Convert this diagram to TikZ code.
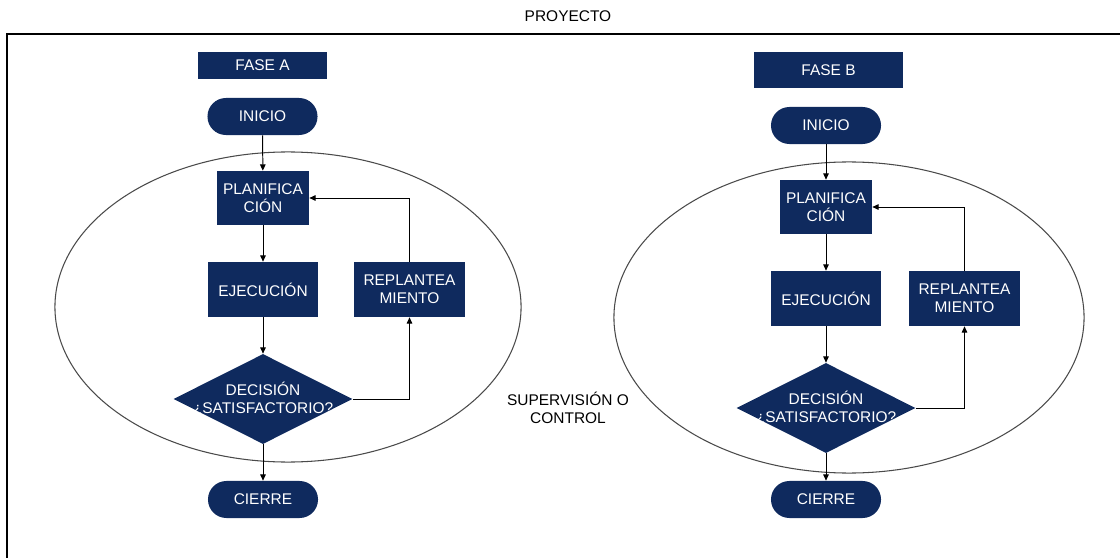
\documentclass[tikz,border=0pt]{standalone}
\usepackage{fontspec}
\setmainfont{Liberation Sans}
\usepackage{xcolor}
\definecolor{navy}{HTML}{0F2A5E}
\definecolor{rim}{HTML}{4A4A4A}
\usepackage{tikz}
\usetikzlibrary{arrows.meta, positioning, shapes, calc}

\tikzset{
  box/.style={rectangle, fill=navy, text=white, inner sep=1pt, align=center,
    font=\fontsize{11}{12.5}\selectfont},
  fasebox/.style={box},
  terminal/.style={box, rounded corners=0.46cm, minimum width=2.75cm, minimum height=0.925cm},
  procbox/.style={box, minimum width=2.75cm, minimum height=1.375cm},
  planbox/.style={box, minimum width=2.3cm, minimum height=1.35cm},
  decision/.style={diamond, fill=navy, inner sep=0pt, minimum width=4.475cm, minimum height=2.25cm},
  dtext/.style={text=white, align=center, inner sep=0pt, font=\fontsize{11}{12.5}\selectfont},
  flow/.style={draw=black, line width=0.7pt, -{Triangle[length=1.6mm, width=1.4mm]}},
  loop/.style={ellipse, draw=rim, line width=0.75pt, inner sep=0pt}
}

\begin{document}
\begin{tikzpicture}[x=0.025cm, y=-0.025cm]
  \useasboundingbox (0,0) rectangle (1120,558);

  % Project frame
  \node[font=\fontsize{11}{12.5}\selectfont] (proy) at (568,16) {PROYECTO};
  \draw[line width=1.1pt] (1120,34) -- (7,34) -- (7,558);

  % Supervision ellipses
  \node[loop, minimum width=11.65cm, minimum height=7.75cm] (elA) at (288,307) {};
  \node[loop, minimum width=11.75cm, minimum height=7.775cm] (elB) at (849,317.5) {};
  \node[align=center, font=\fontsize{11}{12.5}\selectfont] (sup) at (568,408) {SUPERVISIÓN O\\CONTROL};

  % Phase A
  \node[fasebox, minimum width=3.225cm, minimum height=0.675cm] (faseA) at (262.5,65.5) {FASE A};
  \node[terminal] (iniA) at (262.5,116.5) {INICIO};
  \node[planbox] (planA) at (263,198) {PLANIFICA\\CIÓN};
  \node[procbox] (ejeA) at (263,289.5) {EJECUCIÓN};
  \node[procbox] (repA) at (409.5,289.5) {REPLANTEA\\MIENTO};
  \node[decision] (decA) at (263,399) {};
  \node[dtext] (decAt) at (decA) {DECISIÓN\\¿SATISFACTORIO?};
  \node[terminal] (cieA) at (263,499.5) {CIERRE};

  \draw[flow] (iniA) -- (planA);
  \draw[flow] (planA) -- (ejeA);
  \draw[flow] (ejeA) -- (decA);
  \draw[flow] (decA) -- (cieA);
  \draw[flow] (decA.east) -| (repA.south);
  \draw[flow] (repA.north) |- (planA.east);

  % Phase B
  \node[fasebox, minimum width=3.725cm, minimum height=0.9cm] (faseB) at (828.5,70) {FASE B};
  \node[terminal] (iniB) at (826,125.5) {INICIO};
  \node[planbox] (planB) at (826,207) {PLANIFICA\\CIÓN};
  \node[procbox] (ejeB) at (826,298.5) {EJECUCIÓN};
  \node[procbox] (repB) at (964.5,298.5) {REPLANTEA\\MIENTO};
  \node[decision] (decB) at (826,408) {};
  \node[dtext] (decBt) at (decB) {DECISIÓN\\¿SATISFACTORIO?};
  \node[terminal] (cieB) at (826,499.5) {CIERRE};

  \draw[flow] (iniB) -- (planB);
  \draw[flow] (planB) -- (ejeB);
  \draw[flow] (ejeB) -- (decB);
  \draw[flow] (decB) -- (cieB);
  \draw[flow] (decB.east) -| (repB.south);
  \draw[flow] (repB.north) |- (planB.east);
\end{tikzpicture}
\end{document}
